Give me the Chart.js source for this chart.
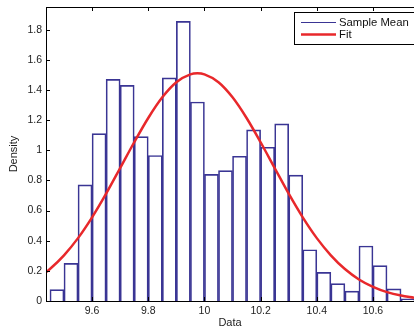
<!DOCTYPE html>
<html>
<head>
<meta charset="utf-8">
<script src="https://cdn.jsdelivr.net/npm/chart.js@4.4.1/dist/chart.umd.min.js"></script>
<style>
  html, body { margin: 0; padding: 0; background: #fff; }
  #wrap { width: 414px; height: 331px; position: relative; }
</style>
</head>
<body>
<div id="wrap"><canvas id="histChart"></canvas></div>
<script>
// histogram bins (centres, width 0.05) and densities
const binCenters = [9.475, 9.525, 9.575, 9.625, 9.675, 9.725, 9.775, 9.825, 9.875, 9.925,
  9.975, 10.025, 10.075, 10.125, 10.175, 10.225, 10.275, 10.325, 10.375, 10.425,
  10.475, 10.525, 10.575, 10.625, 10.675, 10.725];
const densities = [0.075, 0.25, 0.77, 1.11, 1.47, 1.43, 1.09, 0.965, 1.48, 1.855,
  1.32, 0.84, 0.865, 0.96, 1.135, 1.02, 1.175, 0.835, 0.34, 0.19,
  0.115, 0.065, 0.365, 0.235, 0.08, 0.015];

// fitted curve, sampled along the red line
const fitX = [9.436, 9.45, 9.5, 9.55, 9.6, 9.65, 9.7, 9.75, 9.8, 9.85, 9.9, 9.95, 9.975,
  10.0, 10.05, 10.1, 10.15, 10.2, 10.25, 10.3, 10.35, 10.4, 10.45, 10.5, 10.55,
  10.6, 10.65, 10.7, 10.746];
const fitY = [0.191, 0.212, 0.303, 0.417, 0.555, 0.712, 0.882, 1.053, 1.214, 1.351, 1.451, 1.503, 1.51,
  1.503, 1.451, 1.351, 1.214, 1.053, 0.882, 0.712, 0.555, 0.417, 0.303, 0.212, 0.143,
  0.094, 0.059, 0.036, 0.022];

const xTicks = [9.6, 9.8, 10, 10.2, 10.4, 10.6];
const xTickLabels = ['9.6', '9.8', '10', '10.2', '10.4', '10.6'];
const yTicks = [0, 0.2, 0.4, 0.6, 0.8, 1, 1.2, 1.4, 1.6, 1.8];
const yTickLabels = ['0', '0.2', '0.4', '0.6', '0.8', '1', '1.2', '1.4', '1.6', '1.8'];

const FONT = '"Liberation Sans", Arial, Helvetica, sans-serif';
const barEdge = '#3a3594';
const fitRed = '#e8282b';

// matlab-like box with inward ticks, drawn over the bars
const frame = {
  id: 'frame',
  afterDatasetsDraw(chart) {
    const { ctx, chartArea: a, scales: { x, y } } = chart;
    ctx.save();
    ctx.strokeStyle = '#000';
    ctx.lineWidth = 1;
    ctx.beginPath();
    ctx.moveTo(a.left + 0.5, a.top + 0.5);
    ctx.lineTo(a.right + 1, a.top + 0.5);
    ctx.moveTo(a.left + 0.5, a.top);
    ctx.lineTo(a.left + 0.5, a.bottom + 0.5);
    ctx.lineTo(a.right + 1, a.bottom + 0.5);
    xTicks.forEach(v => {
      const px = Math.round(x.getPixelForValue(v)) + 0.5;
      ctx.moveTo(px, a.bottom);
      ctx.lineTo(px, a.bottom - 4);
      ctx.moveTo(px, a.top);
      ctx.lineTo(px, a.top + 4);
    });
    yTicks.forEach(v => {
      const py = Math.round(y.getPixelForValue(v)) + 0.5;
      ctx.moveTo(a.left, py);
      ctx.lineTo(a.left + 4, py);
    });
    ctx.stroke();
    ctx.restore();
  }
};

const boxLegend = {
  id: 'boxLegend',
  afterDraw(chart) {
    const { ctx } = chart;
    const ds = chart.data.datasets;
    const bx = 294.5, by = 12.5, bw = 120, bh = 32;
    ctx.save();
    ctx.fillStyle = '#fff';
    ctx.fillRect(bx, by, bw, bh);
    ctx.strokeStyle = '#000';
    ctx.lineWidth = 1;
    ctx.strokeRect(bx, by, bw, bh);
    ctx.font = '11.3px ' + FONT;
    ctx.textBaseline = 'middle';
    ctx.fillStyle = '#111';
    const rows = [
      { label: ds[0].label, color: barEdge, w: 1, y: 22.5 },
      { label: ds[1].label, color: fitRed, w: 2.5, y: 34.5 }
    ];
    rows.forEach(r => {
      ctx.beginPath();
      ctx.strokeStyle = r.color;
      ctx.lineWidth = r.w;
      ctx.moveTo(301, r.y);
      ctx.lineTo(336, r.y);
      ctx.stroke();
      ctx.fillText(r.label, 339, r.y + 0.5);
    });
    ctx.restore();
  }
};

const ctx = document.getElementById('histChart').getContext('2d');
const chart = new Chart(ctx, {
  type: 'bar',
  data: {
    datasets: [
      {
        type: 'bar',
        label: 'Sample Mean',
        data: binCenters.map((c, i) => ({ x: c, y: densities[i] })),
        backgroundColor: 'rgba(255,255,255,0)',
        borderColor: barEdge,
        borderWidth: 1,
        borderSkipped: 'bottom',
        barPercentage: 1,
        categoryPercentage: 1,
        order: 2
      },
      {
        type: 'line',
        label: 'Fit',
        data: fitX.map((v, i) => ({ x: v, y: fitY[i] })),
        borderColor: fitRed,
        borderWidth: 2.5,
        pointRadius: 0,
        tension: 0.4,
        cubicInterpolationMode: 'monotone',
        fill: false,
        order: 1
      }
    ]
  },
  options: {
    animation: false,
    responsive: true,
    maintainAspectRatio: false,
    layout: { padding: { top: 7, right: 0, left: 0, bottom: 0 } },
    plugins: { legend: { display: false }, tooltip: { enabled: false } },
    scales: {
      x: {
        type: 'linear',
        min: 9.436,
        max: 10.746,
        offset: false,
        grid: { display: false, drawTicks: false },
        border: { display: false },
        afterBuildTicks: s => { s.ticks = xTicks.map(v => ({ value: v })); },
        afterFit: s => { s.height = 30; s.paddingLeft = 0; s.paddingRight = 0; },
        ticks: {
          padding: 4,
          color: '#222',
          font: { family: FONT, size: 10.5 },
          maxRotation: 0,
          autoSkip: false,
          callback: (v) => xTickLabels[xTicks.indexOf(v)] ?? ''
        },
        title: {
          display: true,
          text: 'Data',
          color: '#222',
          font: { family: FONT, size: 11 },
          padding: { top: 0, bottom: 1.5 }
        }
      },
      y: {
        min: 0,
        max: 1.95,
        grid: { display: false, drawTicks: false },
        border: { display: false },
        afterBuildTicks: s => { s.ticks = yTicks.map(v => ({ value: v })); },
        afterFit: s => { s.width = 46; s.paddingTop = 0; s.paddingBottom = 0; },
        ticks: {
          padding: 4,
          color: '#222',
          font: { family: FONT, size: 10.5 },
          autoSkip: false,
          callback: (v) => yTickLabels[yTicks.indexOf(v)] ?? ''
        },
        title: {
          display: true,
          text: 'Density',
          color: '#222',
          font: { family: FONT, size: 11 },
          padding: { top: 7.4, bottom: 0 }
        }
      }
    }
  },
  plugins: [frame, boxLegend]
});
</script>
</body>
</html>
